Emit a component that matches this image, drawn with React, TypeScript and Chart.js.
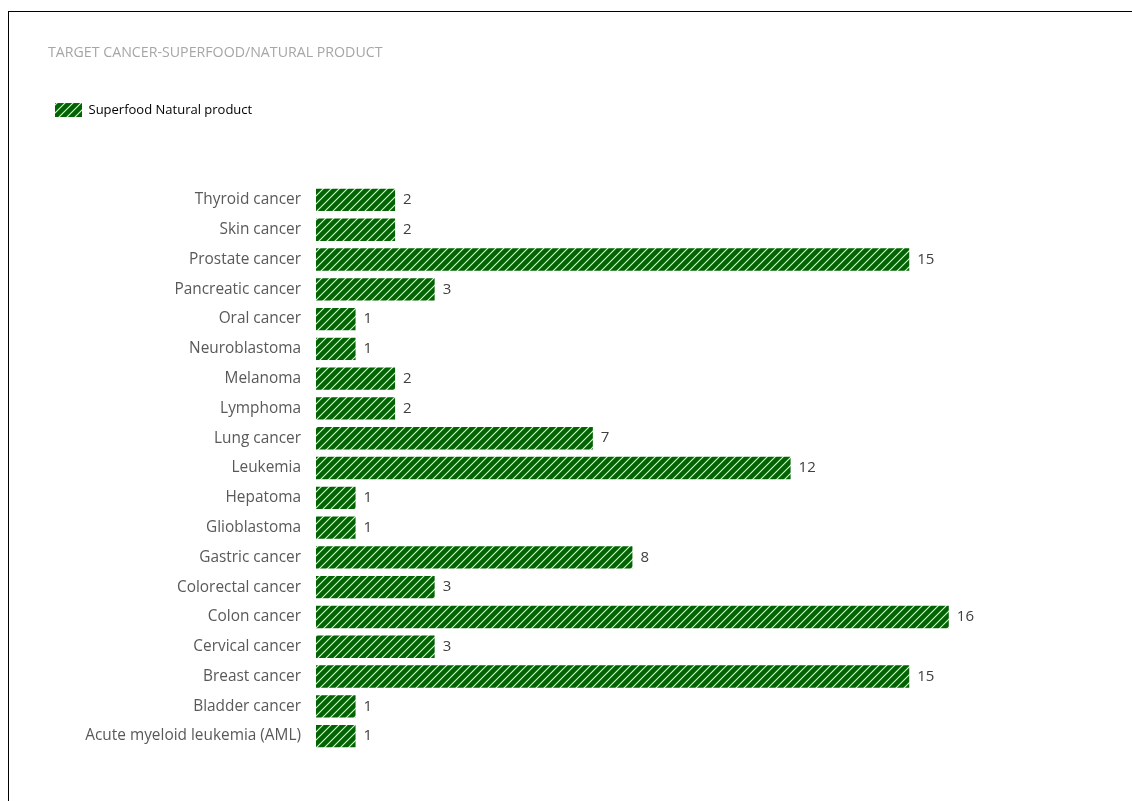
import React, { useEffect, useRef } from "react";
import { Chart, registerables } from "chart.js";

Chart.register(...registerables);

const chartTitle = "TARGET CANCER-SUPERFOOD/NATURAL PRODUCT";
const seriesLabel = "Superfood Natural product";
const categories = [
  "Thyroid cancer",
  "Skin cancer",
  "Prostate cancer",
  "Pancreatic cancer",
  "Oral cancer",
  "Neuroblastoma",
  "Melanoma",
  "Lymphoma",
  "Lung cancer",
  "Leukemia",
  "Hepatoma",
  "Glioblastoma",
  "Gastric cancer",
  "Colorectal cancer",
  "Colon cancer",
  "Cervical cancer",
  "Breast cancer",
  "Bladder cancer",
  "Acute myeloid leukemia (AML)",
];
const values = [2, 2, 15, 3, 1, 1, 2, 2, 7, 12, 1, 1, 8, 3, 16, 3, 15, 1, 1];

const FONT = "'Open Sans', 'Noto Sans', sans-serif";

function makeHatch(): CanvasPattern | string {
  const s = 8;
  const c = document.createElement("canvas");
  c.width = s;
  c.height = s;
  const g = c.getContext("2d");
  if (!g) return "#006400";
  g.fillStyle = "#006400";
  g.fillRect(0, 0, s, s);
  g.strokeStyle = "rgba(255,255,255,0.9)";
  g.lineWidth = 1.1;
  g.beginPath();
  g.moveTo(0, s);
  g.lineTo(s, 0);
  g.moveTo(-s / 2, s / 2);
  g.lineTo(s / 2, -s / 2);
  g.moveTo(s / 2, s * 1.5);
  g.lineTo(s * 1.5, s / 2);
  g.stroke();
  return g.createPattern(c, "repeat") || "#006400";
}

const valueLabels = {
  id: "valueLabels",
  afterDatasetsDraw(chart: any) {
    const ctx = chart.ctx;
    const meta = chart.getDatasetMeta(0);
    ctx.save();
    ctx.font = `15px ${FONT}`;
    ctx.fillStyle = "#404040";
    ctx.textAlign = "left";
    ctx.textBaseline = "middle";
    meta.data.forEach((bar: any, i: number) => {
      ctx.fillText(String(chart.data.datasets[0].data[i]), bar.x + 8, bar.y);
    });
    ctx.restore();
  },
};

const legendSpacer = {
  id: "legendSpacer",
  beforeInit(chart: any) {
    const legend = chart.legend;
    if (!legend) return;
    const orig = legend.fit;
    legend.fit = function () {
      orig.call(this);
      this.height += 58;
    };
  },
};

export default function App() {
  const ref = useRef<HTMLCanvasElement | null>(null);

  useEffect(() => {
    if (!ref.current) return;
    const hatch = makeHatch();
    const chart = new Chart(ref.current, {
      type: "bar",
      data: {
        labels: categories,
        datasets: [
          {
            label: seriesLabel,
            data: values,
            backgroundColor: hatch as any,
            borderWidth: 0,
            barPercentage: 0.75,
            categoryPercentage: 1,
          },
        ],
      },
      options: {
        indexAxis: "y",
        responsive: false,
        animation: false,
        layout: { padding: { left: 48, right: 25, top: 0, bottom: 50 } },
        scales: {
          x: { display: false, min: 0, max: 20 },
          y: {
            grid: { display: false, drawTicks: false },
            border: { display: false },
            ticks: {
              color: "#595959",
              padding: 15,
              font: { size: 15.4, family: FONT },
            },
            afterFit(axis: any) {
              axis.width = 268;
            },
          },
        },
        plugins: {
          title: {
            display: true,
            text: chartTitle,
            align: "start",
            color: "#a6a6a6",
            font: { size: 14.2, family: FONT, weight: "normal" as any, lineHeight: 1.2 },
            padding: { top: 44, bottom: 35 },
          },
          legend: {
            display: true,
            align: "start",
            labels: {
              boxWidth: 27,
              boxHeight: 14,
              padding: 7,
              color: "#000000",
              font: { size: 13, family: FONT },
            },
          },
          tooltip: { enabled: false },
        },
      },
      plugins: [valueLabels, legendSpacer],
    });
    return () => chart.destroy();
  }, []);

  return (
    <div>
      <div
        style={{
          position: "fixed",
          left: 8,
          top: 11,
          width: 1140,
          height: 800,
          borderTop: "1.5px solid #000",
          borderLeft: "1.5px solid #000",
          boxSizing: "border-box",
        }}
      />
      <canvas
        ref={ref}
        width={1132}
        height={801}
        style={{ position: "fixed", left: 0, top: 0, width: 1132, height: 801 }}
      />
    </div>
  );
}
